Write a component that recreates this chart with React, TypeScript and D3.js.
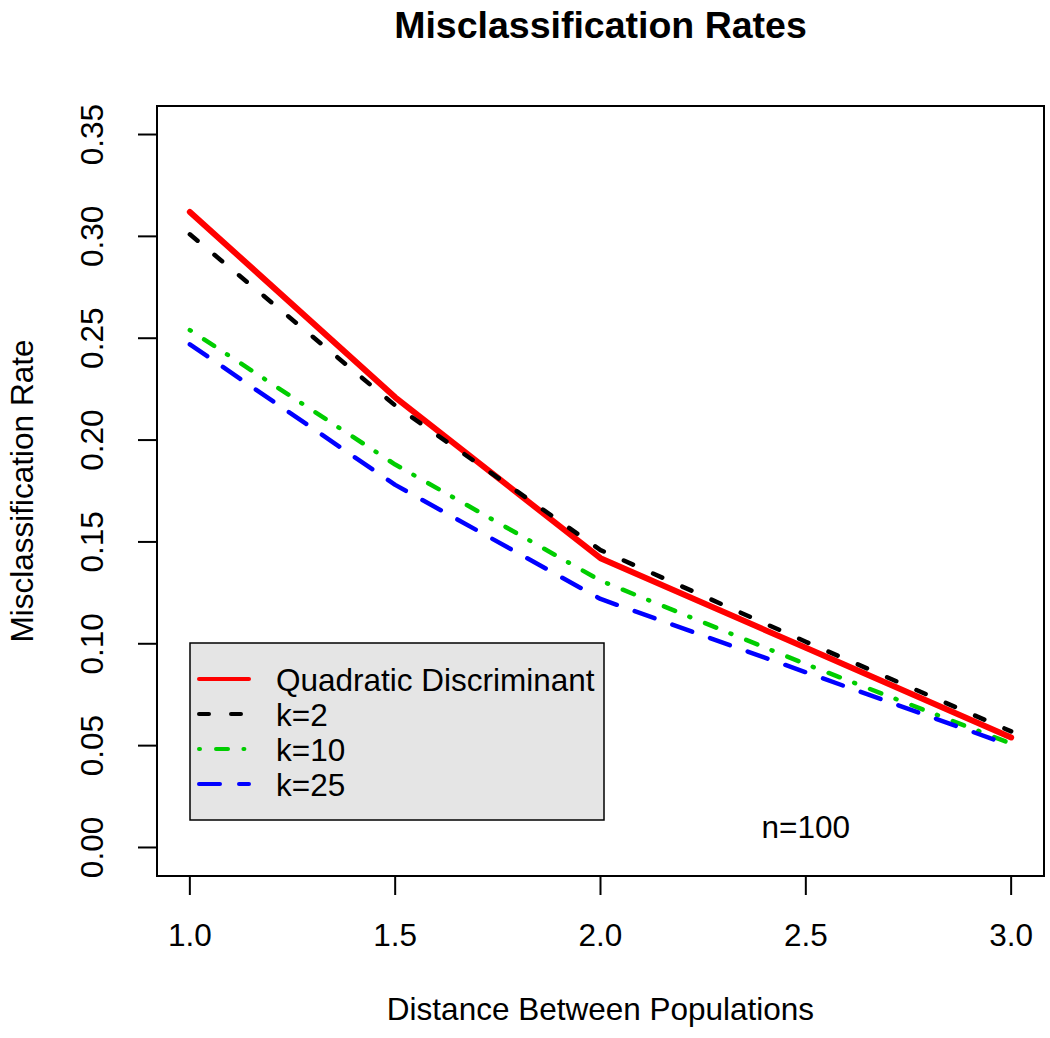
import React, { useEffect, useRef } from "react";
import * as d3 from "d3";

const distances = [1.0, 1.5, 2.0, 2.5, 3.0];
const quadratic = [0.312, 0.221, 0.142, 0.098, 0.054];
const k2 = [0.301, 0.217, 0.146, 0.101, 0.057];
const k10 = [0.254, 0.188, 0.131, 0.090, 0.051];
const k25 = [0.247, 0.178, 0.122, 0.086, 0.050];
const xTicks = [1.0, 1.5, 2.0, 2.5, 3.0];
const yTicks = [0, 0.05, 0.1, 0.15, 0.2, 0.25, 0.3, 0.35];
const legendLabels = ["Quadratic Discriminant", "k=2", "k=10", "k=25"];

const W = 1050;
const H = 1038;
const FONT = "'Liberation Sans', Arial, Helvetica, sans-serif";

export default function App() {
  const ref = useRef<SVGSVGElement | null>(null);

  useEffect(() => {
    document.body.style.margin = "0";
    const svg = d3.select(ref.current);
    svg.selectAll("*").remove();

    const left = 157, right = 1044, top = 106, bottom = 876;
    const x = d3.scaleLinear().domain([0.92, 3.08]).range([left, right]);
    const y = d3.scaleLinear().domain([-0.014, 0.364]).range([bottom, top]);

    svg.append("rect").attr("width", W).attr("height", H).attr("fill", "white");

    const series = [
      { values: quadratic, color: "#ff0000", width: 6, dash: null as string | null },
      { values: k2, color: "#000000", width: 4.5, dash: "10,22" },
      { values: k10, color: "#00cd00", width: 4.5, dash: "1,16,12,15.4" },
      { values: k25, color: "#0000ff", width: 4.5, dash: "21,19" },
    ];

    const line = d3
      .line<number>()
      .x((_, i) => x(distances[i]))
      .y((d) => y(d));

    series.forEach((s) => {
      const p = svg
        .append("path")
        .attr("d", line(s.values) as string)
        .attr("fill", "none")
        .attr("stroke", s.color)
        .attr("stroke-width", s.width)
        .attr("stroke-linecap", "round")
        .attr("stroke-linejoin", "round");
      if (s.dash) p.attr("stroke-dasharray", s.dash);
    });

    // frame
    svg
      .append("rect")
      .attr("x", left)
      .attr("y", top)
      .attr("width", right - left)
      .attr("height", bottom - top)
      .attr("fill", "none")
      .attr("stroke", "black")
      .attr("stroke-width", 2);

    // x axis
    const gx = svg.append("g");
    gx.append("line")
      .attr("x1", x(xTicks[0]))
      .attr("x2", x(xTicks[xTicks.length - 1]))
      .attr("y1", bottom)
      .attr("y2", bottom)
      .attr("stroke", "black")
      .attr("stroke-width", 2);
    xTicks.forEach((t) => {
      gx.append("line")
        .attr("x1", x(t))
        .attr("x2", x(t))
        .attr("y1", bottom)
        .attr("y2", bottom + 19)
        .attr("stroke", "black")
        .attr("stroke-width", 2);
      gx.append("text")
        .attr("x", x(t))
        .attr("y", 946)
        .attr("text-anchor", "middle")
        .attr("font-family", FONT)
        .attr("font-size", 31.5)
        .attr("fill", "black")
        .text(d3.format(".1f")(t));
    });

    // y axis
    const gy = svg.append("g");
    gy.append("line")
      .attr("x1", left)
      .attr("x2", left)
      .attr("y1", y(yTicks[0]))
      .attr("y2", y(yTicks[yTicks.length - 1]))
      .attr("stroke", "black")
      .attr("stroke-width", 2);
    yTicks.forEach((t) => {
      gy.append("line")
        .attr("x1", left - 19)
        .attr("x2", left)
        .attr("y1", y(t))
        .attr("y2", y(t))
        .attr("stroke", "black")
        .attr("stroke-width", 2);
      gy.append("text")
        .attr("transform", `translate(103,${y(t)}) rotate(-90)`)
        .attr("text-anchor", "middle")
        .attr("font-family", FONT)
        .attr("font-size", 31.5)
        .attr("fill", "black")
        .text(d3.format(".2f")(t));
    });

    // titles
    svg
      .append("text")
      .attr("x", (left + right) / 2)
      .attr("y", 38)
      .attr("text-anchor", "middle")
      .attr("font-family", FONT)
      .attr("font-weight", "bold")
      .attr("font-size", 37.5)
      .text("Misclassification Rates");
    svg
      .append("text")
      .attr("x", (left + right) / 2)
      .attr("y", 1020)
      .attr("text-anchor", "middle")
      .attr("font-family", FONT)
      .attr("font-size", 31.5)
      .text("Distance Between Populations");
    svg
      .append("text")
      .attr("transform", `translate(33,${(top + bottom) / 2}) rotate(-90)`)
      .attr("text-anchor", "middle")
      .attr("font-family", FONT)
      .attr("font-size", 31.5)
      .text("Misclassification Rate");

    // annotation
    svg
      .append("text")
      .attr("x", x(2.5))
      .attr("y", y(0.01))
      .attr("dy", "0.35em")
      .attr("text-anchor", "middle")
      .attr("font-family", FONT)
      .attr("font-size", 31.5)
      .text("n=100");

    // legend
    const lg = svg.append("g");
    lg.append("rect")
      .attr("x", 190)
      .attr("y", 643)
      .attr("width", 414)
      .attr("height", 177)
      .attr("fill", "#e5e5e5")
      .attr("stroke", "black")
      .attr("stroke-width", 1.5);
    series.forEach((s, i) => {
      const ly = 679 + i * 35;
      const p = lg
        .append("line")
        .attr("x1", 199)
        .attr("x2", 249)
        .attr("y1", ly)
        .attr("y2", ly)
        .attr("stroke", s.color)
        .attr("stroke-width", 4)
        .attr("stroke-linecap", "round");
      if (s.dash) p.attr("stroke-dasharray", s.dash);
      lg.append("text")
        .attr("x", 276)
        .attr("y", ly + 11.5)
        .attr("font-family", FONT)
        .attr("font-size", 31.5)
        .attr("fill", "black")
        .text(legendLabels[i]);
    });
  }, []);

  return (
    <svg
      ref={ref}
      width={W}
      height={H}
      style={{ position: "absolute", left: 0, top: 0, display: "block" }}
    />
  );
}
